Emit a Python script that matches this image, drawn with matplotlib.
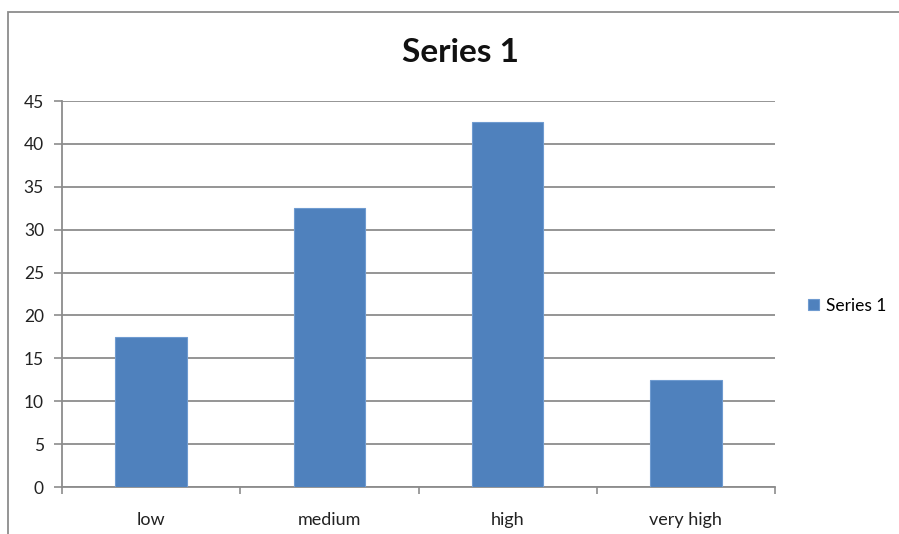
import matplotlib.pyplot as plt
from matplotlib.patches import Rectangle

categories = ['low', 'medium', 'high', 'very high']
values = [17.5, 32.5, 42.5, 12.5]
series_name = 'Series 1'
y_ticks = [0, 5, 10, 15, 20, 25, 30, 35, 40, 45]

plt.rcParams['font.family'] = ['Lato', 'DejaVu Sans']
grey = '#8c8c8c'

fig = plt.figure(figsize=(8.99, 5.34), dpi=100)
ax = fig.add_axes([62 / 899, 1 - 487 / 534, 713 / 899, 386 / 534])

x = range(len(categories))
ax.bar(x, values, width=0.4, color='#4f81bd', edgecolor='#6f9bd0',
       linewidth=0.8, label=series_name, zorder=3)

ax.set_xlim(-0.5, len(categories) - 0.5)
ax.set_ylim(0, 45)
ax.set_yticks(y_ticks)
ax.set_xticks(list(x))
ax.set_xticklabels(categories)
ax.set_xticks([i - 0.5 for i in range(len(categories) + 1)], minor=True)
ax.tick_params(axis='x', which='major', length=0, pad=18, labelsize=13, colors='#222222')
ax.tick_params(axis='x', which='minor', length=5, width=1.2, color=grey)
ax.tick_params(axis='y', length=6, width=1.2, color=grey, labelsize=12.5,
               labelcolor='#222222', pad=7)

ax.grid(axis='y', color=grey, linewidth=1.3, zorder=0)
for s in ['top', 'right']:
    ax.spines[s].set_visible(False)
for s in ['left', 'bottom']:
    ax.spines[s].set_color(grey)
    ax.spines[s].set_linewidth(1.3)

fig.text(460 / 899, 1 - 52 / 534, series_name, ha='center', va='center',
         fontsize=24, fontweight='bold', color='#111111')

ax.legend(loc='center left', bbox_to_anchor=(1.024, 0.47), frameon=False,
          fontsize=12.5, handlelength=0.65, handleheight=0.65, handletextpad=0.4)

fig.patches.append(Rectangle((8 / 899, -0.1), 1.0, 1.1 - 12 / 534,
                             transform=fig.transFigure, fill=False,
                             edgecolor=grey, linewidth=1.3))

fig.savefig('out.png', dpi=100)
